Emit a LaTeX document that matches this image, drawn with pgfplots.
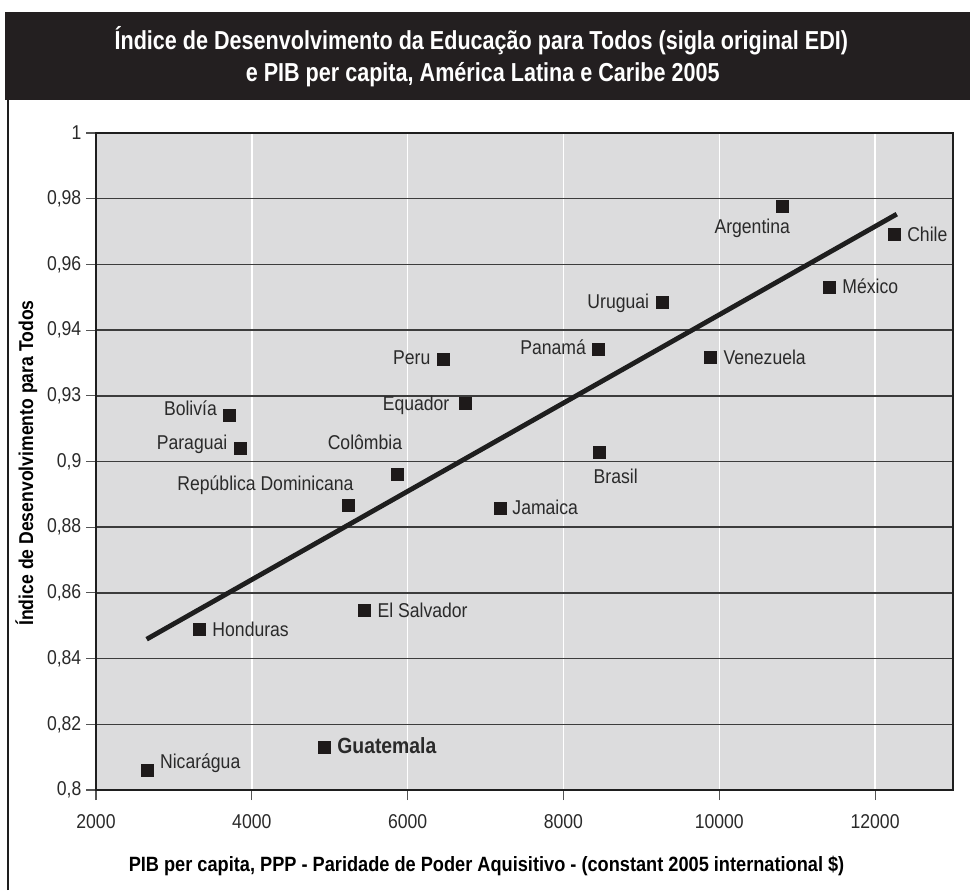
\documentclass[border=0pt]{standalone}
\usepackage{fontspec}
\setmainfont{Liberation Sans}[FakeStretch=0.88]
\newfontfamily\titlefont{Liberation Sans}[FakeStretch=0.83]
\usepackage{pgfplots}
\pgfplotsset{compat=1.18}
\definecolor{titlebg}{HTML}{231F20}
\definecolor{plotbg}{HTML}{DCDCDD}
\definecolor{gridline}{HTML}{3C3C3C}
\definecolor{frame}{HTML}{1E1E1E}
\definecolor{tickgray}{HTML}{555555}
\definecolor{labtext}{HTML}{2A2A2A}
\definecolor{markc}{HTML}{1E1A1A}

\pgfplotstableread{
x y
10808 0.9778
12247 0.9692
11410 0.9532
9265 0.9485
9885 0.9317
8445 0.9342
6458 0.9313
6744 0.9179
8462 0.9030
7188 0.8858
5859 0.8963
5235 0.8868
3714 0.9142
3846 0.9041
3329 0.8490
5444 0.8548
4932 0.8130
2662 0.8060
}\countries

\pgfplotstableread{
x y
2650 0.8459
12278 0.9753
}\trend

\tikzset{lab/.style={font=\fontsize{15}{18}\selectfont, inner sep=0pt, text=labtext}}

\begin{document}
\begin{tikzpicture}
\path[use as bounding box] (0pt,0pt) rectangle (727.5pt,667.5pt);
\fill[titlebg] (3.75pt,592.5pt) rectangle (727.5pt,658.5pt);
\draw[line width=1.5pt, frame] (6pt,0pt) -- (6pt,592.5pt);
\node[anchor=base, text=white, inner sep=0pt, font=\titlefont\bfseries\fontsize{19.5}{22}\selectfont] at (361pt,630pt) {Índice de Desenvolvimento da Educação para Todos (sigla original EDI)};
\node[anchor=base, text=white, inner sep=0pt, font=\titlefont\bfseries\fontsize{19.5}{22}\selectfont] at (362pt,606.2pt) {e PIB per capita, América Latina e Caribe 2005};

\begin{axis}[
  at={(72pt,75pt)}, anchor=south west, scale only axis,
  width=642.75pt, height=492.75pt,
  xmin=2000, xmax=13000, ymin=0.8, ymax=1,
  scaled x ticks=false, scaled y ticks=false,
  axis background/.style={fill=plotbg},
  axis line style={line width=2pt, color=frame},
  xtick={2000,4000,6000,8000,10000,12000},
  xticklabels={2000,4000,6000,8000,10000,12000},
  ytick={0.8,0.82,0.84,0.86,0.88,0.9,0.92,0.94,0.96,0.98,1},
  yticklabels={{0,8},{0,82},{0,84},{0,86},{0,88},{0,9},{0,93},{0,94},{0,96},{0,98},{1}},
  xtick pos=lower, ytick pos=left,
  tick align=outside,
  major tick length=7.5pt,
  every tick/.style={line width=0.8pt, color=tickgray},
  xmajorgrids, ymajorgrids,
  x grid style={white, line width=1.1pt},
  y grid style={gridline, line width=1.1pt},
  ticklabel style={font=\fontsize{15}{18}\selectfont, text=labtext},
  xticklabel style={yshift=-7pt},
  xlabel={PIB per capita, PPP - Paridade de Poder Aquisitivo - (constant 2005 international \$)},
  ylabel={Índice de Desenvolvimento para Todos},
  xlabel style={font=\bfseries\fontsize{15.5}{18}\selectfont, at={(axis description cs:0.4557,0)}, anchor=base, yshift=-61.3pt, inner sep=0pt},
  ylabel style={font=\bfseries\fontsize{15}{18}\selectfont, at={(axis description cs:-0.0735,0.4977)}, anchor=base, inner sep=0pt},
  clip=false,
]
\addplot[draw=frame, line width=3.6pt] table {\trend};
\addplot[only marks, mark=square*, mark size=4.5pt, mark options={fill=markc, draw=markc, line width=0.2pt}] table {\countries};

\node[lab, anchor=base, xshift=-22.5pt, yshift=-21pt] at (axis cs:10808,0.9778) {Argentina};
\node[lab, anchor=base west, xshift=9.5pt, yshift=-5.5pt] at (axis cs:12247,0.9692) {Chile};
\node[lab, anchor=base west, xshift=9.75pt, yshift=-5pt] at (axis cs:11410,0.9532) {México};
\node[lab, anchor=base east, xshift=-9.5pt, yshift=-4.5pt] at (axis cs:9265,0.9485) {Uruguai};
\node[lab, anchor=base west, xshift=9.75pt, yshift=-5pt] at (axis cs:9885,0.9317) {Venezuela};
\node[lab, anchor=base east, xshift=-9pt, yshift=-3.75pt] at (axis cs:8445,0.9342) {Panamá};
\node[lab, anchor=base east, xshift=-9.5pt, yshift=-4.2pt] at (axis cs:6458,0.9313) {Peru};
\node[lab, anchor=base east, xshift=-12pt, yshift=-6pt] at (axis cs:6744,0.9179) {Equador};
\node[lab, anchor=base west, xshift=-4.5pt, yshift=-23.7pt] at (axis cs:8462,0.9030) {Brasil};
\node[lab, anchor=base west, xshift=9pt, yshift=-4.7pt] at (axis cs:7188,0.8858) {Jamaica};
\node[lab, anchor=base east, xshift=4.3pt, yshift=18.3pt] at (axis cs:5859,0.8963) {Colômbia};
\node[lab, anchor=base east, xshift=4.3pt, yshift=10.5pt] at (axis cs:5235,0.8868) {República Dominicana};
\node[lab, anchor=base east, xshift=-9.3pt, yshift=-0.75pt] at (axis cs:3714,0.9142) {Bolivía};
\node[lab, anchor=base east, xshift=-9.2pt, yshift=-1pt] at (axis cs:3846,0.9041) {Paraguai};
\node[lab, anchor=base west, xshift=9.5pt, yshift=-5.5pt] at (axis cs:3329,0.8490) {Honduras};
\node[lab, anchor=base west, xshift=9.75pt, yshift=-5.5pt] at (axis cs:5444,0.8548) {El Salvador};
\node[lab, anchor=base west, xshift=9.5pt, yshift=-5pt, font=\bfseries\fontsize{16.5}{19}\selectfont] at (axis cs:4932,0.8130) {Guatemala};
\node[lab, anchor=base west, xshift=9.2pt, yshift=1pt] at (axis cs:2662,0.8060) {Nicarágua};
\end{axis}
\end{tikzpicture}
\end{document}
